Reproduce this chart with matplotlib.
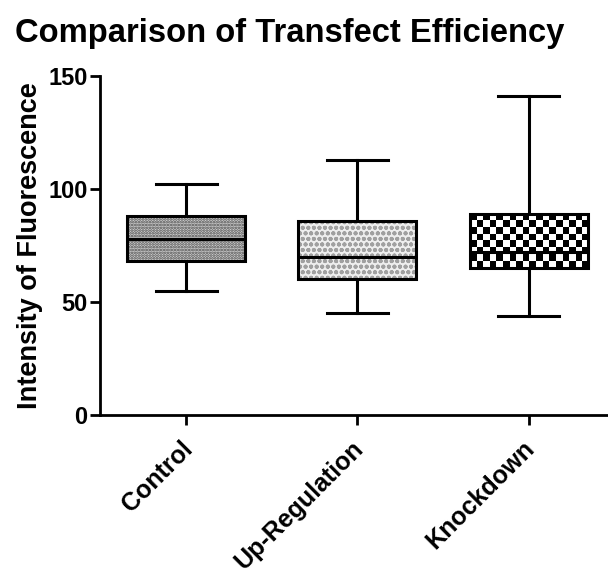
import numpy as np
import matplotlib
matplotlib.use('Agg')
import matplotlib.pyplot as plt
import matplotlib.transforms as mtransforms
from matplotlib.patches import PathPatch

plt.rcParams['font.family'] = ['Liberation Sans', 'DejaVu Sans']
plt.rcParams['font.weight'] = 'bold'

groups = ['Control', 'Up-Regulation', 'Knockdown']
whisker_low = [55, 45, 44]
q1 = [68, 60, 65]
median = [78, 70, 72]
q3 = [88, 86, 89]
whisker_high = [102, 113, 141]

fig = plt.figure(figsize=(6.08, 5.73), dpi=100)
ax = fig.add_axes([100 / 608, 1 - 415 / 573, 1 - 100 / 608 + 0.01, 339 / 573])

stats = []
for i, g in enumerate(groups):
    stats.append(dict(label=g, whislo=whisker_low[i], q1=q1[i], med=median[i],
                      q3=q3[i], whishi=whisker_high[i], fliers=[]))

lw = 2.2
bp = ax.bxp(stats, positions=range(len(groups)), widths=0.69, patch_artist=True,
            showfliers=False, capwidths=0.36,
            boxprops=dict(facecolor='none', edgecolor='black', linewidth=lw, zorder=4),
            medianprops=dict(color='black', linewidth=lw, zorder=5),
            whiskerprops=dict(color='black', linewidth=lw),
            capprops=dict(color='black', linewidth=lw))

ax.set_xlim(-0.505, 2.5)
ax.set_ylim(0, 150)

# fill patterns
fig.canvas.draw()
boxes = bp['boxes']
plt.rcParams['hatch.linewidth'] = 1.3
p0 = PathPatch(boxes[0].get_path(), facecolor='#cfcfcf', edgecolor='#4a4a4a',
               hatch='......', linewidth=0, zorder=2)
ax.add_patch(p0)
p1 = PathPatch(boxes[1].get_path(), facecolor='#eeeeee', edgecolor='#a0a0a0',
               hatch='ooo', linewidth=0, zorder=2)
ax.add_patch(p1)

# checkerboard for knockdown
x0, x1 = 2 - 0.345, 2 + 0.345
y0, y1 = q1[2], q3[2]
(px0, py0) = ax.transData.transform((x0, y0))
(px1, py1) = ax.transData.transform((x1, y1))
cell = 6.5
nx = int(round((px1 - px0) / cell))
ny = int(round((py1 - py0) / cell))
board = (np.add.outer(np.arange(ny), np.arange(nx)) % 2).astype(float)
im = ax.imshow(board, cmap='gray', extent=(x0, x1, y0, y1), aspect='auto',
               interpolation='nearest', zorder=2, vmin=0, vmax=1)
im.set_clip_path(boxes[2])

ax.spines['top'].set_visible(False)
ax.spines['right'].set_visible(False)
ax.spines['left'].set_linewidth(2)
ax.spines['bottom'].set_linewidth(2)
ax.set_yticks([0, 50, 100, 150])
ax.tick_params(axis='both', direction='out', length=7, width=2, labelsize=17)
ax.tick_params(axis='y', pad=2)
ax.set_xticks(range(len(groups)))
ax.set_xticklabels(groups, rotation=45, ha='right', rotation_mode='anchor', fontsize=18)
shift = mtransforms.ScaledTranslation(-6 / 100, -7 / 100, fig.dpi_scale_trans)
for lab in ax.get_xticklabels():
    lab.set_transform(lab.get_transform() + shift)
ax.set_ylabel('Intensity of Fluorescence', fontsize=19.5, fontweight='bold', labelpad=4)

fig.text(0.025, 1 - 42 / 573, 'Comparison of Transfect Efficiency', fontsize=23.6,
         fontweight='bold', ha='left', va='baseline')

fig.savefig('out.png', dpi=100)
